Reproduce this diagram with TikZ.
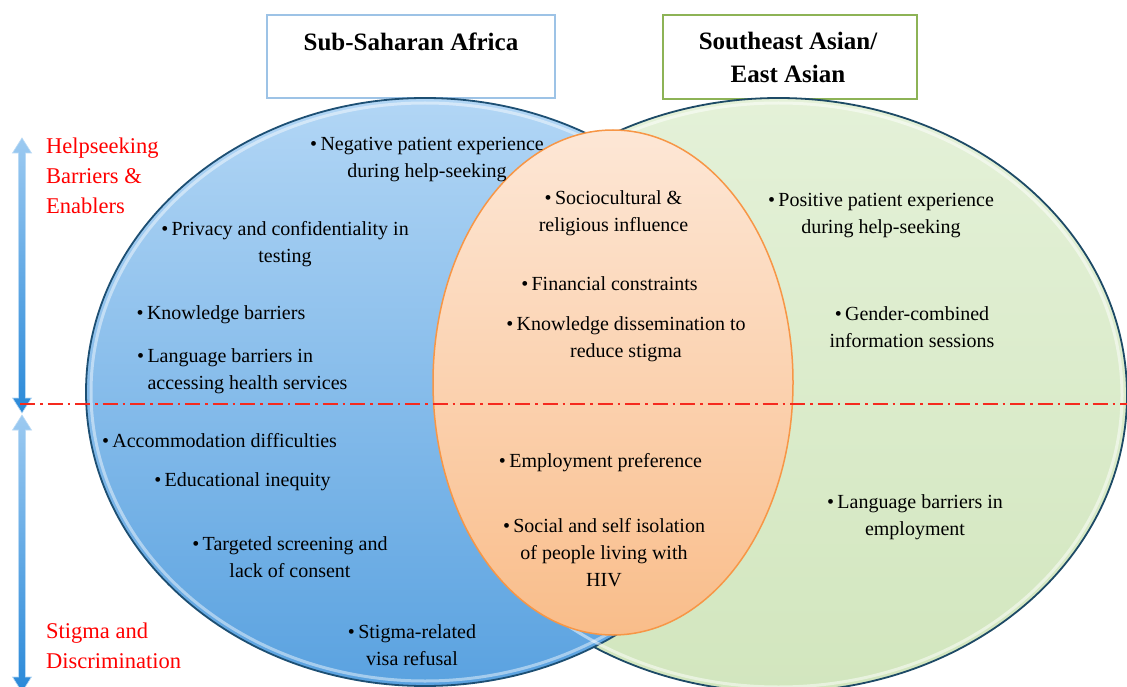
\documentclass[tikz,border=0pt]{standalone}
\usepackage{fontspec}
\setmainfont{Liberation Serif}
\usetikzlibrary{shapes.geometric,calc}
\definecolor{blueTop}{HTML}{B2D6F5}
\definecolor{blueBot}{HTML}{5AA2E0}
\definecolor{blueLine}{HTML}{1D4F73}
\definecolor{greenTop}{HTML}{E4F1D8}
\definecolor{greenBot}{HTML}{D2E6BE}
\definecolor{greenLine}{HTML}{1D4A66}
\definecolor{orTop}{HTML}{FDE7D6}
\definecolor{orBot}{HTML}{F9BD8A}
\definecolor{orLine}{HTML}{F79646}
\definecolor{boxBlue}{HTML}{9DC3E6}
\definecolor{boxGreen}{HTML}{8DB356}
\definecolor{lblRed}{HTML}{FF0000}
\definecolor{arrLight}{HTML}{9CCAF1}
\definecolor{arrDark}{HTML}{2A89D8}
\definecolor{dashRed}{HTML}{F52A1E}
\newcommand{\mybul}{\textbullet\,}
\tikzset{
  bigell/.style={ellipse, inner sep=0pt, line width=1.8pt},
  body/.style={font=\fontsize{20}{27}\selectfont, align=center, inner sep=0pt, text=black},
  bodyleft/.style={font=\fontsize{20}{27}\selectfont, align=left, inner sep=0pt, text=black, anchor=west},
  sidelbl/.style={font=\fontsize{22.5}{30}\selectfont, text=lblRed, align=left, inner sep=0pt, anchor=west},
  ttl/.style={font=\fontsize{25}{33}\selectfont\bfseries, align=center, inner sep=0pt},
  ttlbox/.style={rectangle, fill=white, inner sep=0pt},
  vertarrow/.style={top color=arrLight, bottom color=arrDark, draw=arrLight!70!white, line width=0.6pt},
  divider/.style={dashRed, line width=2.4pt, dash pattern=on 15pt off 5pt on 2.5pt off 5pt}
}
\begin{document}
\begin{tikzpicture}[x=1pt,y=-1pt]
\useasboundingbox (0,0) rectangle (1127,687);
\clip (0,0) rectangle (1127,687);
\fill[white] (0,0) rectangle (1127,687);

% title boxes
\node[ttlbox, draw=boxBlue, line width=1.5pt, minimum width=288pt, minimum height=83pt] (ssabox) at (411,56.5) {};
\node[ttlbox, draw=boxGreen, line width=2pt, minimum width=254pt, minimum height=84pt] (seabox) at (790,57) {};
\node[ttl] (ssa) at (411,42) {Sub-Saharan Africa};
\node[ttl] (sea) at (788,57) {Southeast Asian/\\East Asian};

% ellipses
\node[bigell, top color=greenTop, bottom color=greenBot, draw=greenLine, minimum width=697pt, minimum height=594pt] (seaell) at (778.5,395) {};
\node[bigell, top color=blueTop, bottom color=blueBot, draw=blueLine, minimum width=678pt, minimum height=588pt] (ssaell) at (425,392) {};
\node[ellipse, inner sep=0pt, draw=white, draw opacity=0.45, line width=3pt, minimum width=668pt, minimum height=578pt] (ssarim) at (425,392) {};
\node[ellipse, inner sep=0pt, draw=white, draw opacity=0.5, line width=3pt, minimum width=687pt, minimum height=584pt] (searim) at (778.5,395) {};
\node[bigell, top color=orTop, bottom color=orBot, draw=orLine, line width=1.5pt, minimum width=360pt, minimum height=505pt] (both) at (613,382.5) {};

% left arrows
\coordinate (ua) at (22,138);
\coordinate (ub) at (22,413);
\coordinate (la) at (22,415);
\coordinate (lb) at (22,692);
\path[vertarrow] (ua) -- ($(ua)+(9.5,15)$) -- ($(ua)+(3.5,15)$) -- ($(ub)+(3.5,-15)$) -- ($(ub)+(9.5,-15)$) -- (ub)
  -- ($(ub)+(-9.5,-15)$) -- ($(ub)+(-3.5,-15)$) -- ($(ua)+(-3.5,15)$) -- ($(ua)+(-9.5,15)$) -- cycle;
\path[vertarrow] (la) -- ($(la)+(9.5,15)$) -- ($(la)+(3.5,15)$) -- ($(lb)+(3.5,-15)$) -- ($(lb)+(9.5,-15)$) -- (lb)
  -- ($(lb)+(-9.5,-15)$) -- ($(lb)+(-3.5,-15)$) -- ($(la)+(-3.5,15)$) -- ($(la)+(-9.5,15)$) -- cycle;

% divider
\coordinate (dl) at (20,404);
\coordinate (dr) at (1127,404);
\draw[divider] (dl) -- (dr);

% side labels
\node[sidelbl] (hs) at (46,176) {Helpseeking\\Barriers \&\\Enablers};
\node[sidelbl] (sd) at (46,646) {Stigma and\\Discrimination};

% Sub-Saharan Africa items
\node[body] (t1) at (427,160) {\mybul Negative patient experience\\during help-seeking};
\node[body] (t2) at (285,244) {\mybul Privacy and confidentiality in\\testing};
\node[body] (t3) at (221,314.5) {\mybul Knowledge barriers};
\node[bodyleft] (t4) at (137,371) {\mybul Language barriers in\\\phantom{\mybul}accessing health services};
\node[body] (t5) at (219.5,440.5) {\mybul Accommodation difficulties};
\node[body] (t6) at (242.5,481.5) {\mybul Educational inequity};
\node[body] (t7) at (290,557) {\mybul Targeted screening and\\lack of consent};
\node[body] (t8) at (412,645) {\mybul Stigma-related\\visa refusal};

% shared items
\node[body] (c1) at (613.5,213) {\mybul Sociocultural \&\\religious influence};
\node[body] (c2) at (609.5,283.5) {\mybul Financial constraints};
\node[body] (c3) at (626,339) {\mybul Knowledge dissemination to\\reduce stigma};
\node[body] (c4) at (600.5,462.5) {\mybul Employment preference};
\node[body] (c5) at (604,552.5) {\mybul Social and self isolation\\of people living with\\HIV};

% Southeast / East Asian items
\node[body] (r1) at (881,215.5) {\mybul Positive patient experience\\during help-seeking};
\node[body] (r2) at (912,327.5) {\mybul Gender-combined\\information sessions};
\node[body] (r3) at (915,517.5) {\mybul Language barriers in\\employment};
\end{tikzpicture}
\end{document}
